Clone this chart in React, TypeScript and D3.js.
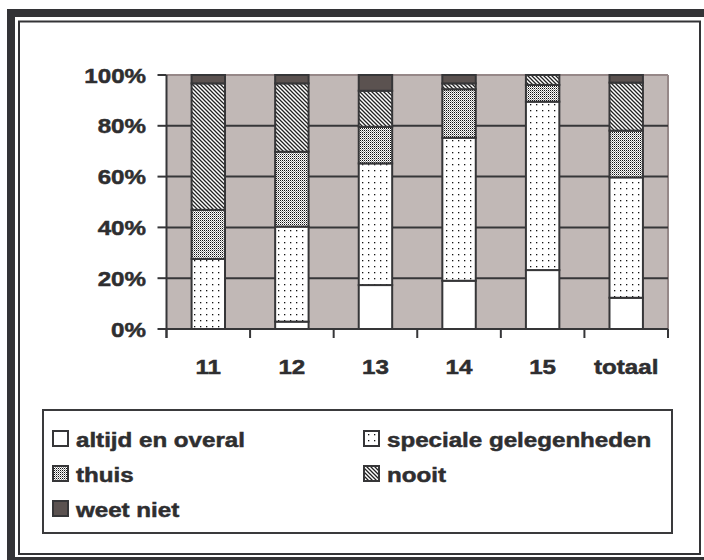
import React from "react";
import * as d3 from "d3";

const categories = ["11", "12", "13", "14", "15", "totaal"];
const altijd = [0, 2.9, 17.3, 19.0, 23.2, 12.3];
const speciale = [27.6, 37.4, 47.9, 56.3, 66.3, 47.4];
const thuis = [19.3, 29.5, 14.4, 19.1, 6.6, 18.4];
const nooit = [49.8, 26.9, 14.2, 2.3, 3.9, 18.9];
const weetNiet = [3.3, 3.3, 6.2, 3.3, 0, 3.0];
const seriesNames = ["altijd en overal", "speciale gelegenheden", "thuis", "nooit", "weet niet"];
const yTickValues = [0, 20, 40, 60, 80, 100];
const yTickLabels = ["0%", "20%", "40%", "60%", "80%", "100%"];

const W = 704;
const H = 560;
const plotLeft = 166.5;
const plotRight = 668;
const plotTop = 75;
const plotBottom = 329;
const FONT = "Arial, 'Liberation Sans', sans-serif";
const DARK = "#363638";
const STRETCH = 1.15;

const fills = ["#ffffff", "url(#dotsSparse)", "url(#dotsDense)", "url(#hatch)", "#5b5250"];

function SText({ x, y, anchor = "start", children }: any) {
  return (
    <text
      transform={`translate(${x},${y}) scale(${STRETCH},1)`}
      textAnchor={anchor}
      fontFamily={FONT}
      fontWeight="bold"
      fontSize={21}
      fill="#2e2e30"
      stroke="#2e2e30"
      strokeWidth={0.5}
    >
      {children}
    </text>
  );
}

export default function App() {
  const rows = categories.map((c, i) => ({
    cat: c,
    s0: altijd[i],
    s1: speciale[i],
    s2: thuis[i],
    s3: nooit[i],
    s4: weetNiet[i],
  }));
  const keys = ["s0", "s1", "s2", "s3", "s4"];
  const stacked = d3.stack<any>().keys(keys)(rows);

  const x = d3
    .scaleBand<string>()
    .domain(categories)
    .range([plotLeft, plotRight])
    .paddingInner(0.6)
    .paddingOuter(0.3);
  const boundary = d3.scaleLinear().domain([0, categories.length]).range([plotLeft, plotRight]);
  const y = d3.scaleLinear().domain([0, 100]).range([plotBottom, plotTop]);

  const legendCols = [53, 364];
  const legendRows = [447, 482, 517];

  return (
    <svg
      width={W}
      height={H}
      style={{ position: "absolute", left: 0, top: 0 }}
      xmlns="http://www.w3.org/2000/svg"
    >
      <defs>
        <pattern id="dotsSparse" patternUnits="userSpaceOnUse" width={6} height={6}>
          <rect width={6} height={6} fill="#fff" />
          <rect x={2} y={2} width={1.3} height={1.3} fill="#111" />
        </pattern>
        <pattern id="dotsDense" patternUnits="userSpaceOnUse" width={2} height={2}>
          <rect width={2} height={2} fill="#fff" />
          <rect x={0} y={0} width={1} height={1} fill="#111" />
          <rect x={1} y={1} width={1} height={1} fill="#9a9a9a" />
        </pattern>
        <pattern id="hatch" patternUnits="userSpaceOnUse" width={4} height={4}>
          <rect width={4} height={4} fill="#fff" />
          <path d="M-1,-1 L5,5 M3,-1 L5,1 M-1,3 L1,5" stroke="#222" strokeWidth={1.3} />
        </pattern>
      </defs>

      {/* frame */}
      <rect x={7} y={9} width={720} height={580} fill="#333336" />
      <rect x={15} y={17} width={720} height={540} fill="#ffffff" />
      <rect x={19} y={21.5} width={681} height={532.5} fill="none" stroke="#333336" strokeWidth={2} />

      {/* plot background */}
      <rect x={plotLeft} y={plotTop} width={plotRight - plotLeft} height={plotBottom - plotTop} fill="#c1b8b6" />
      <line x1={plotLeft} x2={plotRight} y1={plotTop} y2={plotTop} stroke="#968888" strokeWidth={2} />
      <line x1={plotRight} x2={plotRight} y1={plotTop} y2={plotBottom} stroke="#968888" strokeWidth={2} />

      {/* gridlines */}
      {yTickValues
        .filter((v) => v > 0 && v < 100)
        .map((v) => (
          <line key={v} x1={plotLeft} x2={plotRight} y1={y(v)} y2={y(v)} stroke={DARK} strokeWidth={2} />
        ))}

      {/* bars */}
      {stacked.map((layer, li) =>
        layer.map((d: any, ci: number) => {
          const h = y(d[0]) - y(d[1]);
          if (h <= 0.01) return null;
          return (
            <rect
              key={`${li}-${ci}`}
              x={x(d.data.cat)}
              y={y(d[1])}
              width={x.bandwidth()}
              height={h}
              fill={fills[li]}
              stroke={DARK}
              strokeWidth={2}
            />
          );
        })
      )}

      {/* axes */}
      <line x1={plotLeft} x2={plotLeft} y1={plotTop} y2={plotBottom + 9} stroke={DARK} strokeWidth={2} />
      <line x1={plotLeft} x2={plotRight} y1={plotBottom} y2={plotBottom} stroke={DARK} strokeWidth={2} />
      {yTickValues.map((v, i) => (
        <g key={v}>
          <line x1={plotLeft - 9} x2={plotLeft} y1={y(v)} y2={y(v)} stroke={DARK} strokeWidth={2} />
          <SText x={146} y={y(v) + 7.5} anchor="end">
            {yTickLabels[i]}
          </SText>
        </g>
      ))}
      {d3.range(categories.length + 1).map((i) => (
        <line
          key={i}
          x1={boundary(i)}
          x2={boundary(i)}
          y1={plotBottom}
          y2={plotBottom + 9}
          stroke={DARK}
          strokeWidth={2}
        />
      ))}
      {categories.map((c) => (
        <SText key={c} x={(x(c) as number) + x.bandwidth() / 2} y={374} anchor="middle">
          {c}
        </SText>
      ))}

      {/* legend */}
      <rect x={43} y={410} width={629} height={123} fill="#fff" stroke="#3a3a3c" strokeWidth={2} />
      {seriesNames.map((name, i) => {
        const cx = legendCols[i % 2];
        const ry = legendRows[Math.floor(i / 2)];
        return (
          <g key={name}>
            <rect x={cx} y={ry - 16} width={15} height={15} fill={fills[i]} stroke={DARK} strokeWidth={2} />
            <SText x={cx + 23} y={ry}>
              {name}
            </SText>
          </g>
        );
      })}
    </svg>
  );
}
